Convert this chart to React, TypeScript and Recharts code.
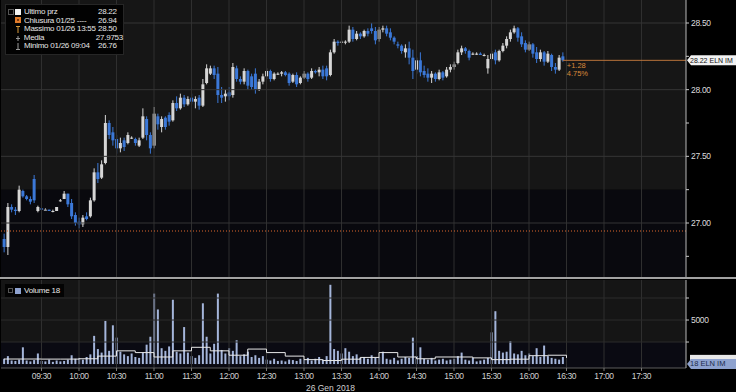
import React from 'react';
import {
  ComposedChart,
  Bar,
  Line,
  XAxis,
  YAxis,
  ReferenceLine,
  ReferenceArea,
  Legend,
} from 'recharts';

// 3-minute bars from 09:00, ELN IM 26 Gen 2018
const BAR_MIN = 3;

const OPEN = [
  26.88, 26.82, 27.12, 27.10, 27.09, 27.24, 27.20, 27.18, 27.33, 27.09,
  27.11, 27.10, 27.10, 27.09, 27.09, 27.17, 27.18, 27.22, 27.15, 27.06,
  27.01, 26.99, 27.05, 27.05, 27.17, 27.38, 27.34, 27.45, 27.75, 27.68,
  27.63, 27.56, 27.62, 27.60, 27.64, 27.63, 27.58, 27.64, 27.78, 27.66,
  27.58, 27.80, 27.72, 27.79, 27.81, 27.77, 27.90, 27.86, 27.94, 27.89,
  27.94, 27.91, 27.94, 27.88, 28.05, 28.12, 28.16, 28.12, 27.96, 27.95,
  27.98, 27.96, 28.16, 28.08, 28.06, 28.14, 28.10, 28.12, 28.00, 28.06,
  28.10, 28.14, 28.08, 28.12, 28.12, 28.13, 28.12, 28.06, 28.11, 28.05,
  28.09, 28.12, 28.09, 28.14, 28.13, 28.15, 28.16, 28.11, 28.28, 28.36,
  28.36, 28.36, 28.36, 28.45, 28.38, 28.42, 28.40, 28.44, 28.46, 28.44,
  28.38, 28.45, 28.46, 28.43, 28.39, 28.34, 28.33, 28.28, 28.31, 28.24,
  28.15, 28.22, 28.14, 28.12, 28.09, 28.12, 28.08, 28.13, 28.10, 28.15,
  28.17, 28.20, 28.28, 28.31, 28.29, 28.27, 28.27, 28.27, 28.26, 28.16,
  28.23, 28.28, 28.22, 28.29, 28.33, 28.38, 28.43, 28.46, 28.40, 28.35,
  28.30, 28.34, 28.28, 28.23, 28.28, 28.21, 28.26, 28.17, 28.15, 28.25,
];

const HIGH = [
  26.92, 27.15, 27.14, 27.12, 27.28, 27.25, 27.21, 27.20, 27.36, 27.13,
  27.11, 27.11, 27.10, 27.10, 27.12, 27.18, 27.24, 27.22, 27.18, 27.08,
  27.04, 27.06, 27.08, 27.19, 27.41, 27.45, 27.47, 27.81, 27.77, 27.72,
  27.66, 27.64, 27.64, 27.68, 27.65, 27.64, 27.64, 27.86, 27.80, 27.68,
  27.87, 27.82, 27.80, 27.80, 27.83, 27.92, 27.95, 27.97, 27.96, 27.95,
  27.97, 27.95, 27.96, 28.08, 28.19, 28.18, 28.18, 28.17, 28.02, 28.00,
  28.02, 28.20, 28.18, 28.10, 28.16, 28.15, 28.12, 28.16, 28.08, 28.12,
  28.16, 28.15, 28.13, 28.13, 28.14, 28.14, 28.13, 28.12, 28.13, 28.10,
  28.14, 28.13, 28.16, 28.15, 28.17, 28.18, 28.18, 28.30, 28.38, 28.37,
  28.37, 28.37, 28.48, 28.47, 28.44, 28.43, 28.45, 28.46, 28.50, 28.47,
  28.47, 28.48, 28.48, 28.46, 28.40, 28.36, 28.34, 28.34, 28.36, 28.30,
  28.24, 28.28, 28.18, 28.16, 28.14, 28.13, 28.15, 28.14, 28.17, 28.19,
  28.21, 28.30, 28.33, 28.32, 28.30, 28.28, 28.28, 28.28, 28.27, 28.26,
  28.29, 28.30, 28.30, 28.35, 28.40, 28.45, 28.48, 28.47, 28.43, 28.37,
  28.36, 28.35, 28.32, 28.30, 28.29, 28.29, 28.27, 28.20, 28.26, 28.28,
];

const LOW = [
  26.78, 26.76, 27.08, 27.06, 27.08, 27.19, 27.17, 27.14, 27.15, 27.08,
  27.10, 27.10, 27.09, 27.08, 27.09, 27.16, 27.18, 27.12, 27.03, 26.98,
  26.96, 26.97, 27.02, 27.04, 27.16, 27.30, 27.33, 27.44, 27.63, 27.58,
  27.52, 27.53, 27.54, 27.59, 27.63, 27.58, 27.57, 27.63, 27.62, 27.52,
  27.56, 27.70, 27.68, 27.70, 27.73, 27.76, 27.84, 27.85, 27.87, 27.88,
  27.89, 27.86, 27.85, 27.87, 28.04, 28.11, 28.08, 27.90, 27.90, 27.91,
  27.92, 27.94, 28.06, 28.04, 28.04, 28.00, 28.00, 27.97, 27.99, 28.04,
  28.08, 28.06, 28.07, 28.11, 28.10, 28.10, 28.03, 28.05, 28.02, 28.04,
  28.08, 28.06, 28.08, 28.12, 28.10, 28.08, 28.07, 28.10, 28.27, 28.33,
  28.35, 28.34, 28.35, 28.36, 28.37, 28.38, 28.39, 28.40, 28.42, 28.34,
  28.36, 28.43, 28.40, 28.37, 28.34, 28.31, 28.27, 28.24, 28.19, 28.08,
  28.12, 28.10, 28.09, 28.06, 28.05, 28.06, 28.07, 28.07, 28.09, 28.13,
  28.15, 28.19, 28.26, 28.27, 28.22, 28.26, 28.26, 28.26, 28.25, 28.12,
  28.22, 28.19, 28.21, 28.28, 28.31, 28.36, 28.42, 28.36, 28.32, 28.28,
  28.29, 28.24, 28.20, 28.21, 28.18, 28.20, 28.14, 28.12, 28.14, 28.21,
];

const CLOSE = [
  26.82, 27.12, 27.10, 27.09, 27.25, 27.20, 27.18, 27.16, 27.17, 27.12,
  27.10, 27.10, 27.09, 27.09, 27.12, 27.17, 27.22, 27.14, 27.05, 27.00,
  26.99, 27.04, 27.03, 27.17, 27.38, 27.33, 27.44, 27.75, 27.66, 27.62,
  27.56, 27.60, 27.57, 27.66, 27.64, 27.60, 27.62, 27.80, 27.66, 27.56,
  27.82, 27.74, 27.78, 27.72, 27.76, 27.90, 27.86, 27.94, 27.89, 27.93,
  27.91, 27.93, 27.88, 28.04, 28.16, 28.16, 28.11, 27.96, 27.94, 27.97,
  27.95, 28.17, 28.08, 28.06, 28.14, 28.03, 28.02, 28.00, 28.06, 28.10,
  28.14, 28.08, 28.12, 28.12, 28.13, 28.11, 28.05, 28.11, 28.04, 28.09,
  28.12, 28.08, 28.14, 28.13, 28.15, 28.10, 28.10, 28.28, 28.36, 28.35,
  28.36, 28.36, 28.45, 28.38, 28.42, 28.40, 28.44, 28.42, 28.44, 28.37,
  28.45, 28.46, 28.42, 28.39, 28.36, 28.33, 28.29, 28.31, 28.24, 28.14,
  28.22, 28.13, 28.11, 28.09, 28.12, 28.08, 28.13, 28.09, 28.15, 28.17,
  28.19, 28.28, 28.31, 28.29, 28.24, 28.27, 28.27, 28.26, 28.26, 28.23,
  28.27, 28.22, 28.29, 28.33, 28.38, 28.43, 28.46, 28.39, 28.34, 28.30,
  28.34, 28.27, 28.23, 28.28, 28.21, 28.27, 28.17, 28.15, 28.24, 28.22,
];

const VOLUME = [
  600, 900, 400, 350, 500, 1900, 400, 300, 450, 1200,
  350, 300, 500, 250, 400, 300, 350, 500, 1000, 600,
  700, 500, 800, 1100, 3200, 1700, 1300, 4900, 1500, 4400,
  3000, 1400, 1100, 900, 1200, 800, 700, 1300, 2200, 3100,
  8000, 6200, 1800, 1500, 2000, 7300, 1400, 1200, 4200, 1300,
  900, 700, 1000, 6900, 3100, 1200, 2300, 8000, 1600, 1200,
  1800, 1500, 2700, 900, 1100, 1400, 800, 1000, 700, 900,
  500, 400, 600, 350, 400, 300, 500, 450, 350, 600,
  500, 700, 400, 600, 800, 500, 900, 9000, 1700, 1500,
  1200, 1800, 1400, 900, 1100, 700, 800, 600, 1000, 700,
  800, 1400, 600, 500, 700, 400, 600, 800, 700, 3000,
  900, 1900, 600, 500, 700, 400, 500, 600, 400, 500,
  600, 900, 1300, 500, 400, 700, 300, 400, 500, 700,
  3600, 6000, 1500, 1300, 1400, 2600, 1200, 1100, 1500, 1000,
  1200, 900, 1800, 800, 2100, 900, 700, 600, 500, 800,
];

// volume average, one value per 15 minutes from 09:00
const MA_MIN = [0, 15, 30, 45, 60, 75, 90, 105, 120, 135, 150, 165, 180, 195, 210, 225,
  240, 255, 270, 285, 300, 315, 330, 345, 360, 375, 390, 405, 420, 435, 450];
const MA_VALUES = [570, 570, 560, 560, 600, 900, 1500, 1300, 800, 1500, 1900, 1500, 1000, 1700, 1300, 900,
  500, 400, 550, 750, 1300, 800, 600, 800, 800, 700, 500, 550, 950, 1000, 700];

const TIME_TICKS = [30, 60, 90, 120, 150, 180, 210, 240, 270, 300, 330, 360, 390, 420, 450, 480, 510];
const TIME_LABELS = ['09:30', '10:00', '10:30', '11:00', '11:30', '12:00', '12:30', '13:00', '13:30',
  '14:00', '14:30', '15:00', '15:30', '16:00', '16:30', '17:00', '17:30'];

const PRICE_TICKS = [26.75, 27.0, 27.25, 27.5, 27.75, 28.0, 28.25, 28.5];
const PRICE_GRID = [27.0, 27.5, 28.0, 28.5];
const VOL_TICKS = [2500, 5000, 7500];

const LEGEND_LABELS = ['Ultimo prz', 'Chiusura 01/25 ----', 'Massimo 01/26 13:55', 'Media', 'Minimo 01/26 09:04'];
const LEGEND_VALUES = ['28.22', '26.94', '28.50', '27.9753', '26.76'];

const LAST_PRICE = 28.22;
const PREV_CLOSE = 26.94;
const LAST_T = 447;
const CHANGE_TEXT = '+1.28';
const CHANGE_PCT = '4.75%';
const PRICE_TAG = '28.22 ELN IM';
const LAST_VOLUME = 18;
const VOL_TAG = '18 ELN IM';
const DATE_TEXT = '26 Gen 2018';

const X_DOMAIN = [-2.4, 545.6];
const PRICE_DOMAIN = [26.595, 28.6725];
const VOL_DOMAIN = [-450, 9545];

const FONT = '"Liberation Sans", Arial, sans-serif';

const rows = OPEN.map((o, i) => ({
  t: i * BAR_MIN,
  open: o,
  high: HIGH[i],
  low: LOW[i],
  close: CLOSE[i],
  vol: VOLUME[i],
}));

const maRows = MA_MIN.map((t, i) => ({ t, ma: MA_VALUES[i] }));

const Candle = (props: any) => {
  const { x, y, width, height, payload } = props;
  if (payload == null || !isFinite(y)) return null;
  const { open, close, high, low } = payload;
  const up = close >= open;
  const color = up ? '#d6d6d6' : '#3b78d8';
  const k = high > low ? height / (high - low) : 0;
  const top = y + (high - Math.max(open, close)) * k;
  const bodyH = Math.max(1, Math.abs(open - close) * k);
  const cx = x + width / 2;
  return (
    <g>
      <line x1={cx} x2={cx} y1={y} y2={y + Math.max(height, 1)} stroke={color} strokeWidth={1} />
      <rect x={x - 0.5} y={top} width={width + 1} height={bodyH} fill={color} />
    </g>
  );
};

const PriceTick = (props: any) => {
  const { x, y, payload } = props;
  const v = payload.value;
  const major = Math.abs(v * 2 - Math.round(v * 2)) < 1e-6;
  return (
    <g>
      <line x1={x - 5} x2={x - 2} y1={y} y2={y} stroke="#c8c8c8" strokeWidth={1} />
      {major && (
        <text x={x} y={y + 3} fill="#dcdcdc" fontSize={8.5} fontFamily={FONT} letterSpacing={-0.3}>
          {v.toFixed(2)}
        </text>
      )}
    </g>
  );
};

const VolTick = (props: any) => {
  const { x, y, payload } = props;
  return (
    <g>
      <line x1={x - 5} x2={x - 2} y1={y} y2={y} stroke="#c8c8c8" strokeWidth={1} />
      {payload.value === 5000 && (
        <text x={x} y={y + 3} fill="#dcdcdc" fontSize={8.5} fontFamily={FONT} letterSpacing={-0.3}>
          {payload.value}
        </text>
      )}
    </g>
  );
};

const TimeTick = (props: any) => {
  const { x, y, payload } = props;
  return (
    <text x={x} y={y + 7} textAnchor="middle" fill="#d0d0d0" fontSize={8.5} fontFamily={FONT} letterSpacing={-0.4}>
      {timeLabel(payload.value)}
    </text>
  );
};

const LastPriceLabel = (props: any) => {
  const vb = props.viewBox || {};
  const x0 = vb.x + vb.width + 1;
  const y = vb.y;
  return (
    <g fontFamily={FONT}>
      <text x={vb.x + 4} y={y + 7.5} fill="#d9893a" fontSize={7.5}>{CHANGE_TEXT}</text>
      <text x={vb.x + 4} y={y + 15.5} fill="#d9893a" fontSize={7.5}>{CHANGE_PCT}</text>
      <polygon
        points={`${x0},${y} ${x0 + 4},${y - 5} 736,${y - 5} 736,${y + 5} ${x0 + 4},${y + 5}`}
        fill="#f2f2f2"
      />
      <text x={x0 + 3} y={y + 2.5} fill="#111" fontSize={7}>
        {PRICE_TAG}
      </text>
    </g>
  );
};

const VolumeTagLabel = (props: any) => {
  const vb = props.viewBox || {};
  const x0 = vb.x + vb.width + 1;
  const y = vb.y;
  return (
    <g fontFamily={FONT}>
      <rect x={x0 + 3} y={y - 9} width={736 - x0 - 3} height={5} fill="#e8e8e8" />
      <polygon
        points={`${x0},${y} ${x0 + 4},${y - 5} 736,${y - 5} 736,${y + 5} ${x0 + 4},${y + 5}`}
        fill="#8ea2cf"
      />
      <text x={x0 + 3} y={y + 2.5} fill="#1c2b4c" fontSize={7.5}>
        {VOL_TAG}
      </text>
    </g>
  );
};

const legendIcon = (i: number) => {
  if (i === 0) return <rect x={0} y={0} width={6} height={6} fill="#f4f4f4" />;
  if (i === 1)
    return (
      <g>
        <rect x={0} y={0} width={6} height={6} fill="#e07b2a" />
        <rect x={2} y={2} width={2} height={2} fill="#7a3a10" />
      </g>
    );
  if (i === 2)
    return (
      <g stroke="#d99a3a" strokeWidth={1}>
        <line x1={1} x2={5} y1={0.5} y2={0.5} />
        <line x1={3} x2={3} y1={0} y2={7} />
      </g>
    );
  if (i === 3)
    return (
      <g stroke="#9a9a9a" strokeWidth={1}>
        <line x1={1} x2={5} y1={3.5} y2={3.5} />
        <line x1={3} x2={3} y1={1} y2={6} />
      </g>
    );
  return (
    <g stroke="#9a9a9a" strokeWidth={1}>
      <line x1={1} x2={5} y1={6.5} y2={6.5} />
      <line x1={3} x2={3} y1={0} y2={7} />
    </g>
  );
};

const PriceLegend = () => (
  <div
    style={{
      background: 'rgba(0,0,0,0.9)',
      border: '1px solid #262626',
      padding: '3px 0 3px 0',
      fontFamily: FONT,
      fontSize: 8,
      letterSpacing: '-0.25px',
      lineHeight: '8.6px',
      color: '#e6e6e6',
      textAlign: 'left',
    }}
  >
    {LEGEND_LABELS.map((label, i) => (
      <div key={label} style={{ display: 'flex', alignItems: 'center', height: 8.6, whiteSpace: 'nowrap' }}>
        <span style={{ width: 4, marginLeft: 2, height: 4, border: i === 0 ? '1px solid #555' : '1px solid transparent' }} />
        <svg width={7} height={7} style={{ marginLeft: 1, marginRight: 2 }}>
          {legendIcon(i)}
        </svg>
        <span style={{ width: 74, overflow: 'hidden' }}>{label}</span>
        <span>{LEGEND_VALUES[i]}</span>
      </div>
    ))}
  </div>
);

const VolumeLegend = () => (
  <div
    style={{
      background: 'rgba(0,0,0,0.85)',
      padding: '2px 4px 2px 2px',
      fontFamily: FONT,
      fontSize: 8,
      letterSpacing: '-0.2px',
      lineHeight: '9px',
      color: '#e6e6e6',
      display: 'flex',
      alignItems: 'center',
      whiteSpace: 'nowrap',
    }}
  >
    <span style={{ width: 3, height: 3, border: '1px solid #555', marginLeft: 1 }} />
    <span style={{ width: 6, height: 6, background: '#8ea2cf', marginLeft: 2, marginRight: 3 }} />
    <span>Volume {LAST_VOLUME}</span>
  </div>
);

const timeLabel = (v: number) => {
  const i = TIME_TICKS.indexOf(v);
  return i >= 0 ? TIME_LABELS[i] : '';
};

export default function App() {
  return (
    <div style={{ width: 736, height: 392, background: '#000', position: 'relative', overflow: 'hidden' }}>
      <style>{'body{margin:0;background:#000}'}</style>
      <ComposedChart width={736} height={277} data={rows} margin={{ top: 0, right: 0, bottom: 0, left: 1 }}>
        <XAxis type="number" dataKey="t" domain={X_DOMAIN} allowDataOverflow hide />
        <YAxis
          orientation="right"
          width={50}
          domain={PRICE_DOMAIN}
          allowDataOverflow
          ticks={PRICE_TICKS}
          interval={0}
          tickSize={4}
          tickMargin={1}
          tickLine={false}
          tick={<PriceTick />}
          axisLine={{ stroke: '#b8b8b8' }}
        />
        <ReferenceArea y1={27.25} y2={28.6725} fill="#161616" fillOpacity={1} stroke="none" />
        <ReferenceArea y1={PRICE_DOMAIN[0]} y2={27.25} fill="#09090e" fillOpacity={1} stroke="none" />
        {TIME_TICKS.map((t) => (
          <ReferenceLine key={'v' + t} x={t} stroke="#2f2f2f" strokeWidth={1} />
        ))}
        {PRICE_GRID.map((p) => (
          <ReferenceLine key={'h' + p} y={p} stroke="#353535" strokeWidth={1} />
        ))}
        <ReferenceLine y={PREV_CLOSE} stroke="#e0682c" strokeWidth={1} strokeDasharray="1 2" />
        <Bar
          dataKey={(d: any) => [d.low, d.high]}
          barSize={2}
          shape={<Candle />}
          isAnimationActive={false}
        />
        <ReferenceLine
          segment={[{ x: LAST_T, y: LAST_PRICE }, { x: X_DOMAIN[1], y: LAST_PRICE }]}
          stroke="#b8733a"
          strokeWidth={1}
          label={<LastPriceLabel />}
        />
        <Legend
          content={<PriceLegend />}
          layout="horizontal"
          verticalAlign="middle"
          align="center"
          wrapperStyle={{ top: 4, left: 5, width: 119 }}
        />
      </ComposedChart>
      <div style={{ height: 2, background: '#a2a2a2' }} />
      <ComposedChart width={736} height={113} data={rows} margin={{ top: 1, right: 0, bottom: 0, left: 1 }}>
        <XAxis
          type="number"
          dataKey="t"
          domain={X_DOMAIN}
          allowDataOverflow
          ticks={TIME_TICKS}
          interval={0}
          tickFormatter={timeLabel}
          height={24}
          tickSize={3}
          tickMargin={1}
          axisLine={{ stroke: '#5c5c5c' }}
          tickLine={{ stroke: '#777' }}
          tick={<TimeTick />}
          label={{ value: DATE_TEXT, position: 'insideBottom', offset: 1, dx: -13, fill: '#d0d0d0', fontSize: 8.5, fontFamily: FONT }}
        />
        <YAxis
          orientation="right"
          width={50}
          domain={VOL_DOMAIN}
          allowDataOverflow
          ticks={VOL_TICKS}
          interval={0}
          tickSize={4}
          tickMargin={1}
          tickLine={false}
          tick={<VolTick />}
          axisLine={{ stroke: '#b8b8b8' }}
        />
        <ReferenceArea y1={2500} y2={VOL_DOMAIN[1]} fill="#151515" fillOpacity={1} stroke="none" />
        <ReferenceArea y1={VOL_DOMAIN[0]} y2={2500} fill="#0a0a12" fillOpacity={1} stroke="none" />
        {TIME_TICKS.map((t) => (
          <ReferenceLine key={'vv' + t} x={t} stroke="#2f2f2f" strokeWidth={1} />
        ))}
        {VOL_TICKS.map((v) => (
          <ReferenceLine key={'vh' + v} y={v} stroke="#2c2c2c" strokeWidth={1} />
        ))}
        <Bar dataKey="vol" barSize={2} fill="#a4b5da" isAnimationActive={false} />
        <Line
          data={maRows}
          dataKey="ma"
          type="stepAfter"
          stroke="#e8e8e8"
          strokeWidth={1}
          dot={false}
          isAnimationActive={false}
        />
        <ReferenceLine y={LAST_VOLUME} stroke="none" label={<VolumeTagLabel />} />
        <Legend
          content={<VolumeLegend />}
          layout="horizontal"
          verticalAlign="middle"
          align="center"
          wrapperStyle={{ top: 5, left: 5, width: 'auto' }}
        />
      </ComposedChart>
    </div>
  );
}
